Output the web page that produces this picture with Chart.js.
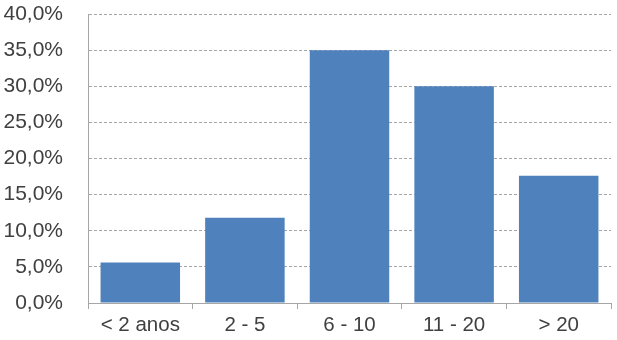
<!DOCTYPE html>
<html><head><meta charset="utf-8">
<script src="https://cdn.jsdelivr.net/npm/chart.js@4/dist/chart.umd.min.js"></script>
<style>html,body{margin:0;padding:0;background:#fff}#w{width:617px;height:340px;position:relative}</style>
</head><body><div id="w"><canvas id="c"></canvas></div>
<script>
const categories = ["< 2 anos", "2 - 5", "6 - 10", "11 - 20", "> 20"];
const values = [5.6, 11.8, 35.0, 30.0, 17.6];
const yMin = 0, yMax = 40, yStep = 5;

new Chart(document.getElementById('c'), {
  type: 'bar',
  data: { labels: categories, datasets: [{ data: values, backgroundColor: '#4F81BD', borderWidth: 0, categoryPercentage: 0.76, barPercentage: 1 }] },
  options: {
    responsive: true, maintainAspectRatio: false, animation: false,
    layout: { padding: { top: 14, right: 6, bottom: 0, left: 0 } },
    plugins: { legend: { display: false }, tooltip: { enabled: false } },
    scales: {
      x: {
        grid: { display: true, drawOnChartArea: false, drawTicks: true, tickLength: 6, color: '#a6a6a6', offset: true },
        border: { color: '#a6a6a6', width: 1 },
        ticks: { color: '#404040', font: { family: 'Liberation Sans, Arial', size: 20.5 }, padding: 4 },
        afterFit: s => { s.height = 37; }
      },
      y: {
        min: yMin, max: yMax,
        ticks: { stepSize: yStep, color: '#404040', font: { family: 'Liberation Sans, Arial', size: 21 }, padding: 0,
          callback: v => v.toFixed(1).replace('.', ',') + '%' },
        grid: { color: '#a6a6a6', drawTicks: true, tickLength: 25, tickColor: 'rgba(0,0,0,0)' },
        border: { color: '#a6a6a6', width: 1, dash: [3, 2] },
        afterFit: s => { s.width = 88; }
      }
    }
  }
});
</script></body></html>
